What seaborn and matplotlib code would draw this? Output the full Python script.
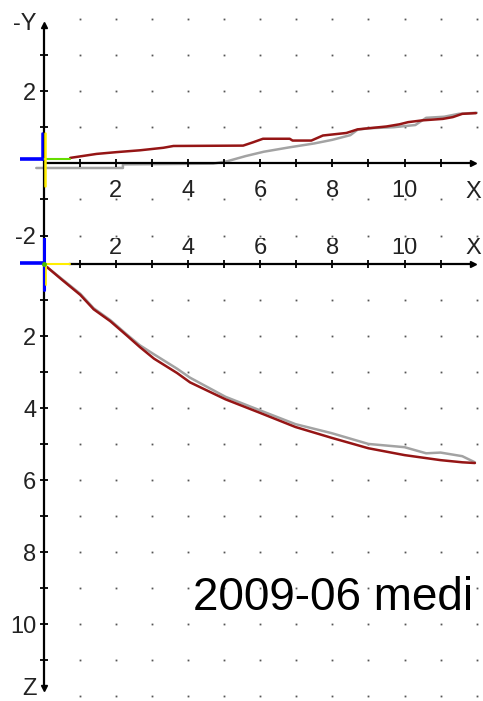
import numpy as np
import matplotlib
matplotlib.use("Agg")
import matplotlib.pyplot as plt
import seaborn as sns

# top view (-Y against X)
top_red_x = [0.74, 1.47, 2.03, 2.67, 3.32, 3.6, 5.53, 5.8, 6.08, 6.82, 6.9, 7.42, 7.74,
             8.39, 8.7, 9.5, 9.86, 10.1, 10.5, 11.06, 11.34, 11.6, 11.98]
top_red_y = [0.15, 0.26, 0.31, 0.36, 0.43, 0.48, 0.49, 0.58, 0.68, 0.68, 0.63, 0.63, 0.77,
             0.84, 0.94, 1.02, 1.08, 1.14, 1.19, 1.23, 1.28, 1.37, 1.39]
top_gray_x = [-0.2, 2.2, 2.2, 4.7, 5.1, 5.6, 6.1, 6.8, 7.5, 8.0, 8.5, 8.7, 9.0, 9.7,
              10.3, 10.6, 11.1, 11.5, 12.0]
top_gray_y = [-0.13, -0.13, -0.03, -0.01, 0.06, 0.2, 0.32, 0.44, 0.55, 0.65, 0.78, 0.93,
              0.97, 1.0, 1.06, 1.26, 1.29, 1.37, 1.4]

# side view (Z against X)
bot_red_x = [0.1, 0.5, 1.02, 1.39, 1.85, 2.31, 2.67, 3.06, 3.7, 4.06, 5.04, 5.98, 6.98,
             7.98, 9.0, 10.0, 11.0, 11.6, 11.95]
bot_red_z = [0.08, 0.42, 0.85, 1.25, 1.58, 1.98, 2.3, 2.62, 3.02, 3.28, 3.75, 4.12, 4.52,
             4.82, 5.11, 5.30, 5.44, 5.50, 5.52]
bot_gray_x = [0, 0.5, 1.02, 1.39, 1.85, 2.31, 2.67, 3.06, 3.7, 4.06, 5.04, 5.98, 6.98,
              7.98, 9.0, 10.0, 10.6, 11.0, 11.6, 11.95]
bot_gray_z = [0, 0.4, 0.82, 1.22, 1.55, 1.95, 2.25, 2.5, 2.9, 3.15, 3.68, 4.05, 4.44,
              4.69, 4.99, 5.08, 5.25, 5.23, 5.33, 5.5]

x_ticks = [2, 4, 6, 8, 10]
top_y_ticks = [2, -2]
bot_z_ticks = [2, 4, 6, 8, 10]
title = "2009-06 medi"

RED = "#951515"
GRAY = "#a3a3a3"
DOT = "#555555"

sns.set_style("white")
plt.rcParams["font.family"] = ["Liberation Sans", "DejaVu Sans"]

W, H = 483, 701
fig = plt.figure(figsize=(W / 100, H / 100), dpi=100)

x0px, unit = 43.5, 36.1
xlim = (-x0px / unit, (W - x0px) / unit)

# top axes: pixel rows 0..250, y=0 at row 163.3
ax1 = fig.add_axes([0, 1 - 250 / H, 1, 250 / H])
ax1.set_xlim(*xlim)
ax1.set_ylim((163.3 - 250) / unit, 163.3 / unit)
ax1.axis("off")
ax1.patch.set_alpha(0)

# bottom axes: pixel rows 237.5..701, z=0 at row 264.3
ax2 = fig.add_axes([0, 0, 1, (H - 237.5) / H])
ax2.set_xlim(*xlim)
ax2.set_ylim((H - 264.3) / 36.0, (237.5 - 264.3) / 36.0)
ax2.axis("off")
ax2.patch.set_alpha(0)

lab = dict(fontsize=17, color="#222222")

# dotted grids
gx, gy = np.meshgrid(np.arange(1, 13), [-2, -1, 1, 2, 3, 4])
ax1.plot(gx.ravel(), gy.ravel(), ls="none", marker="s", ms=1.3, color=DOT, mew=0, clip_on=False)
gx, gz = np.meshgrid(np.arange(1, 13), np.arange(1, 13))
ax2.plot(gx.ravel(), gz.ravel(), ls="none", marker="s", ms=1.3, color=DOT, mew=0, clip_on=False)

# ---- top panel
ax1.plot([0, 0], [-2.07, 3.8], color="black", lw=1.6, zorder=3, clip_on=False)
ax1.plot([0], [3.82], marker="^", ms=5, color="black", zorder=3)
ax1.plot([0, 11.9], [0, 0], color="black", lw=1.6, zorder=3)
ax1.plot([11.9], [0], marker=">", ms=5, color="black", zorder=3)
ax1.plot(np.arange(1, 12), np.zeros(11), ls="none", marker="|", ms=6, mew=1.3, color="black", zorder=3)
ax1.plot(np.zeros(5), [-2, -1, 1, 2, 3], ls="none", marker="_", ms=6, mew=1.3, color="black", zorder=3, clip_on=False)

sns.lineplot(x=top_gray_x, y=top_gray_y, ax=ax1, sort=False, estimator=None, color=GRAY, lw=1.8, zorder=2)
sns.lineplot(x=top_red_x, y=top_red_y, ax=ax1, sort=False, estimator=None, color=RED, lw=1.8, zorder=4)

# origin marker
ax1.plot([-0.65, 0], [0.11, 0.11], color="#0000ff", lw=2.6, zorder=5, solid_capstyle="butt")
ax1.plot([0, 0.74], [0.11, 0.11], color="#66dd00", lw=1.5, zorder=5)
ax1.plot([-0.04, -0.04], [0.11, 0.83], color="#0000ff", lw=1.8, zorder=5)
ax1.plot([0.03, 0.03], [0.83, -0.63], color="#ffee00", lw=1.8, zorder=5)

for v in x_ticks:
    ax1.text(v, -0.685, str(v), ha="center", va="center_baseline", **lab)
ax1.text(11.9, -0.72, "X", ha="center", va="center_baseline", **lab)
for v in top_y_ticks:
    ax1.text(-0.2, v, str(v), ha="right", va="center_baseline", clip_on=False, **lab)
ax1.text(-0.2, 3.93, "-Y", ha="right", va="center_baseline", **lab)

# ---- bottom panel
ax2.plot([0, 0], [-0.8, 11.75], color="black", lw=1.6, zorder=3)
ax2.plot([0], [11.78], marker="v", ms=5, color="black", zorder=3)
ax2.plot([0.7, 11.9], [0, 0], color="black", lw=1.6, zorder=3)
ax2.plot([11.9], [0], marker=">", ms=5, color="black", zorder=3)
ax2.plot(np.arange(1, 12), np.zeros(11), ls="none", marker="|", ms=6, mew=1.3, color="black", zorder=3)
ax2.plot(np.zeros(11), np.arange(1, 12), ls="none", marker="_", ms=6, mew=1.3, color="black", zorder=3)

sns.lineplot(x=bot_gray_x, y=bot_gray_z, ax=ax2, sort=False, estimator=None, color=GRAY, lw=1.8, zorder=2)
sns.lineplot(x=bot_red_x, y=bot_red_z, ax=ax2, sort=False, estimator=None, color=RED, lw=1.8, zorder=4)

ax2.plot([-0.65, 0], [-0.03, -0.03], color="#0000ff", lw=2.6, zorder=5, solid_capstyle="butt")
ax2.plot([0, 0.73], [0.0, 0.0], color="#ffee00", lw=1.5, zorder=5)
ax2.plot([0.0, 0.0], [-0.72, 0.72], color="#0000ff", lw=2.2, zorder=5)
ax2.plot([0.06, 0.06], [0.02, 0.58], color="#ffee00", lw=1.3, zorder=5)
ax2.plot([0], [0], marker="o", ms=2.5, color="#44bb00", zorder=6)

for v in x_ticks:
    ax2.text(v, -0.52, str(v), ha="center", va="center_baseline", clip_on=True, **lab)
ax2.text(11.9, -0.52, "X", ha="center", va="center_baseline", clip_on=True, **lab)
for v in bot_z_ticks:
    ax2.text(-0.2, v, str(v), ha="right", va="center_baseline", **lab)
ax2.text(-0.2, 11.72, "Z", ha="right", va="center_baseline", **lab)

fig.text(193 / W, 1 - 610 / H, title, fontsize=33, color="black", ha="left", va="baseline")

fig.savefig("out.png", dpi=100, facecolor="white")
